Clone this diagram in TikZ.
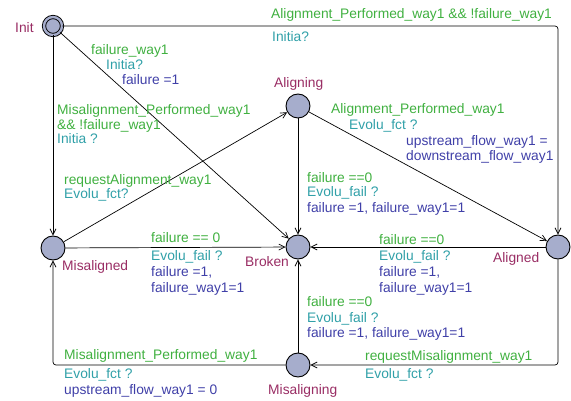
\documentclass[tikz,border=0pt]{standalone}
\usepackage{fontspec}
\setmainfont{Liberation Sans}
\usetikzlibrary{arrows.meta,calc,positioning}
\definecolor{locfill}{RGB}{166,173,204}
\definecolor{guardcol}{RGB}{64,176,64}
\definecolor{synccol}{RGB}{48,160,168}
\definecolor{updcol}{RGB}{64,64,168}
\definecolor{namecol}{RGB}{153,45,100}
\tikzset{
locstyle/.style={
  circle,
  line width=0.9pt,
  inner sep=0pt,
  minimum size=24pt,
  fill=locfill,
  draw=black,
  }
}
\tikzset{
initstyle/.style={
  circle,
  line width=0.9pt,
  inner sep=0pt,
  minimum size=18pt,
  fill=locfill,
  draw=black,
  double=locfill,
  double distance=2.4pt,
  }
}
\tikzset{
transline/.style={
  line width=0.7pt,
  rounded corners=3pt,
  -{Straight Barb[length=6pt,width=6pt]}
  }
}
\tikzset{
lbl/.style={anchor=base west, inner sep=0pt, align=left,
  font=\fontsize{13.8}{15.8}\selectfont},
guard/.style={lbl, text=guardcol},
sync/.style={lbl, text=synccol},
upd/.style={lbl, text=updcol},
locname/.style={lbl, text=namecol}
}

\begin{document}
\begin{tikzpicture}[x=1pt,y=-1pt]
    \useasboundingbox (0,0) rectangle (571,401);

    % locations
    \node[initstyle] (init) at (53,26) {};
    \node[locstyle] (aligning) at (298,106) {};
    \node[locstyle] (misaligned) at (53,248) {};
    \node[locstyle] (broken) at (298,247) {};
    \node[locstyle] (aligned) at (558,247) {};
    \node[locstyle] (misaligning) at (298,365) {};

    % location names
    \node[locname] (init_nm) at (15,33) {Init};
    \node[locname] (aligning_nm) at (274,88) {Aligning};
    \node[locname] (misaligned_nm) at (62,270) {Misaligned};
    \node[locname] (broken_nm) at (245,267) {Broken};
    \node[locname] (aligned_nm) at (493,262) {Aligned};
    \node[locname] (misaligning_nm) at (268,394) {Misaligning};

    % transitions
    \draw[transline] (init) -- (init -| aligned) -- (aligned);
    \draw[transline] (init) -- (broken);
    \draw[transline] (init) -- (misaligned);
    \draw[transline] (misaligned) -- (aligning);
    \draw[transline] (aligning) -- (broken);
    \draw[transline] (aligning) -- (aligned);
    \draw[transline] (misaligned) -- (broken);
    \draw[transline] (aligned) -- (broken);
    \draw[transline] (misaligning) -- (broken);
    \draw[transline] (aligned) -- (aligned |- misaligning) -- (misaligning);
    \draw[transline] (misaligning) -- (misaligning -| misaligned) -- (misaligned);

    % init labels (multi-line labels sit on their last line)
    \node[guard] (g1) at (271,19) {Alignment\_Performed\_way1 \&\& !failure\_way1};
    \node[sync] (s1) at (272,42) {Initia?};
    \node[guard] (g2) at (91,55) {failure\_way1};
    \node[sync] (s2) at (106,70) {Initia?};
    \node[upd] (u2) at (122,85) {failure =1};
    \node[guard] (g3) at (57,130) {Misalignment\_Performed\_way1\\\&\& !failure\_way1};
    \node[sync] (s3) at (57,144) {Initia ?};

    % aligning labels
    \node[guard] (g4) at (64,185) {requestAlignment\_way1};
    \node[sync] (s4) at (64,199) {Evolu\_fct?};
    \node[guard] (g5) at (331,114) {Alignment\_Performed\_way1};
    \node[sync] (s5) at (349,130) {Evolu\_fct ?};
    \node[upd] (u5) at (406,161) {upstream\_flow\_way1 =\\downstream\_flow\_way1};
    \node[guard] (g6) at (307,183) {failure ==0};
    \node[sync] (s6) at (307,197) {Evolu\_fail ?};
    \node[upd] (u6) at (307,213) {failure =1, failure\_way1=1};

    % broken labels
    \node[guard] (g7) at (151,243) {failure == 0};
    \node[sync] (s7) at (151,261) {Evolu\_fail ?};
    \node[upd] (u7) at (151,292) {failure =1,\\failure\_way1=1};
    \node[guard] (g8) at (379,245) {failure ==0};
    \node[sync] (s8) at (379,261) {Evolu\_fail ?};
    \node[upd] (u8) at (379,292) {failure =1,\\failure\_way1=1};
    \node[guard] (g9) at (307,306) {failure ==0};
    \node[sync] (s9) at (307,322) {Evolu\_fail ?};
    \node[upd] (u9) at (307,337) {failure =1, failure\_way1=1};

    % misaligning labels
    \node[guard] (g10) at (365,360) {requestMisalignment\_way1};
    \node[sync] (s10) at (365,378) {Evolu\_fct ?};
    \node[guard] (g11) at (64,359) {Misalignment\_Performed\_way1};
    \node[sync] (s11) at (64,378) {Evolu\_fct ?};
    \node[upd] (u11) at (64,394) {upstream\_flow\_way1 = 0};
\end{tikzpicture}
\end{document}
